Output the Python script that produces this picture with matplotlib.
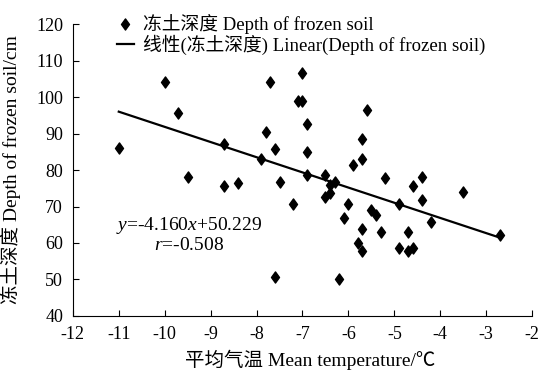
import numpy as np
import matplotlib
matplotlib.use("Agg")
import matplotlib.pyplot as plt
from matplotlib.path import Path

# mean temperature (deg C) vs depth of frozen soil (cm)
temp = [-11.0, -10.0, -9.7, -9.5, -8.7, -8.7, -8.4, -7.9, -7.8, -7.7,
        -7.6, -7.6, -7.5, -7.2, -7.1, -7.0, -7.0, -6.9, -6.9, -6.9,
        -6.5, -6.5, -6.4, -6.4, -6.3, -6.2, -6.1, -6.0, -5.9, -5.8,
        -5.7, -5.7, -5.6, -5.7, -5.7, -5.5, -5.4, -5.3, -5.2, -4.9,
        -4.9, -4.7, -4.7, -4.6, -4.6, -4.4, -4.4, -4.2, -3.5, -2.7]
depth = [86.0, 104.0, 95.5, 78.0, 87.0, 75.7, 76.5, 83.0, 90.5, 104.0,
         85.7, 50.8, 76.6, 70.7, 99.0, 99.0, 106.5, 92.6, 84.8, 78.6,
         78.7, 72.5, 75.9, 73.6, 76.7, 50.0, 66.8, 70.7, 81.5, 60.0,
         83.0, 88.5, 96.4, 63.8, 57.9, 69.0, 67.6, 62.9, 77.9, 70.7,
         58.6, 62.9, 57.9, 58.6, 75.6, 78.0, 71.8, 65.7, 73.9, 62.1]

slope = -4.160
intercept = 50.229
r_value = -0.508

xticks = list(range(-12, -1))
yticks = list(range(40, 121, 10))

fonts = ["Liberation Serif", "Noto Sans CJK SC", "DejaVu Sans"]
plt.rcParams["font.family"] = fonts
plt.rcParams["axes.unicode_minus"] = False
plt.rcParams["mathtext.fontset"] = "custom"
plt.rcParams["mathtext.it"] = "Liberation Serif:italic"
plt.rcParams["mathtext.rm"] = "Liberation Serif"

# diamond a bit wider than matplotlib's thin one
diamond = Path([(0, 1), (0.72, 0), (0, -1), (-0.72, 0), (0, 1)],
               [Path.MOVETO, Path.LINETO, Path.LINETO, Path.LINETO, Path.CLOSEPOLY])

fig = plt.figure(figsize=(5.56, 3.70), dpi=100)
ax = fig.add_axes([0.131, 0.146, 0.826, 0.789])

ax.plot(temp, depth, linestyle="none", marker=diamond, color="black",
        markersize=8, label="冻土深度 Depth of frozen soil")

x_fit = np.array([min(temp), max(temp)])
ax.plot(x_fit, slope * x_fit + intercept, color="black", linewidth=1.6,
        label="线性(冻土深度) Linear(Depth of frozen soil)")

ax.set_xlim(-12, -2)
ax.set_ylim(40, 120)
ax.set_xticks(xticks)
ax.set_yticks(yticks)
ax.spines["top"].set_visible(False)
ax.spines["right"].set_visible(False)
ax.tick_params(direction="in", length=4, labelsize=13, width=0.8)
ax.tick_params(axis="x", pad=7)
ax.tick_params(axis="y", pad=7)

ax.set_xlabel("平均气温 Mean temperature/℃", fontsize=14)
ax.xaxis.set_label_coords(0.516, -0.115)
ax.set_ylabel("冻土深度 Depth of frozen soil/cm", fontsize=14, va="center")
ax.yaxis.set_label_coords(-0.135, 0.5)

ax.text(0.253, 0.309, r"$y$=%.3f$x$+%.3f" % (slope, intercept),
        transform=ax.transAxes, ha="center", va="center", fontsize=14)
ax.text(0.253, 0.243, r"$r$=%.3f" % r_value,
        transform=ax.transAxes, ha="center", va="center", fontsize=14)

ax.legend(loc="upper left", bbox_to_anchor=(0.075, 1.065), frameon=False,
          fontsize=13.5, handlelength=0.9, handletextpad=0.5,
          labelspacing=0.0, borderpad=0.0)

fig.savefig("out.png", dpi=100)
